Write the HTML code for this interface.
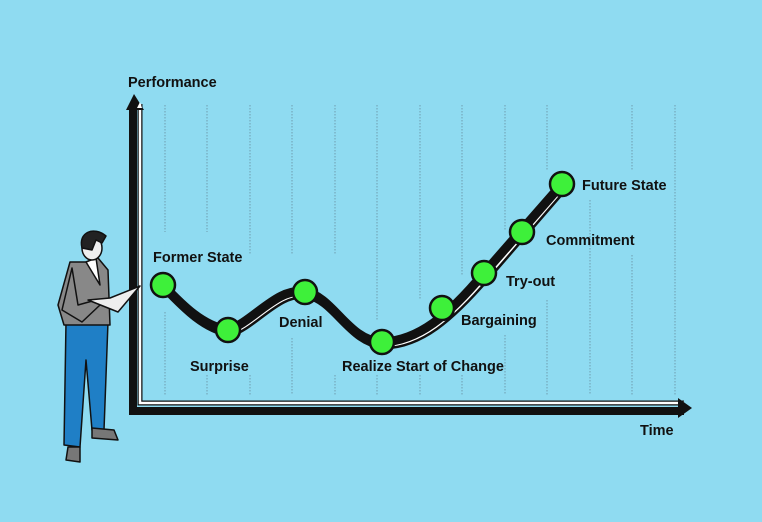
<!DOCTYPE html>
<html><head><style>
body{margin:0;width:762px;height:522px;background:#8fdbf1;overflow:hidden;font-family:"Liberation Sans",sans-serif}
svg{display:block}
text{font-family:"Liberation Sans",sans-serif;font-weight:bold;font-size:14.5px;fill:#111}
</style></head><body>
<svg width="762" height="522" viewBox="0 0 762 522">
<rect width="762" height="522" fill="#8fdbf1"/>
<g stroke="#6f9eb0" stroke-width="1" stroke-dasharray="1.5,1.5">
<line x1="165" y1="105" x2="165" y2="232"/><line x1="165" y1="312" x2="165" y2="395"/>
<line x1="207" y1="105" x2="207" y2="232"/><line x1="207" y1="375" x2="207" y2="395"/>
<line x1="250" y1="105" x2="250" y2="255"/><line x1="250" y1="375" x2="250" y2="395"/>
<line x1="292" y1="105" x2="292" y2="255"/><line x1="292" y1="338" x2="292" y2="395"/>
<line x1="335" y1="105" x2="335" y2="255"/><line x1="335" y1="375" x2="335" y2="395"/>
<line x1="377" y1="105" x2="377" y2="320"/><line x1="377" y1="375" x2="377" y2="395"/>
<line x1="420" y1="105" x2="420" y2="300"/><line x1="420" y1="375" x2="420" y2="395"/>
<line x1="462" y1="105" x2="462" y2="275"/><line x1="462" y1="375" x2="462" y2="395"/>
<line x1="505" y1="105" x2="505" y2="230"/><line x1="505" y1="335" x2="505" y2="395"/>
<line x1="547" y1="105" x2="547" y2="170"/><line x1="547" y1="300" x2="547" y2="395"/>
<line x1="590" y1="200" x2="590" y2="395"/>
<line x1="632" y1="105" x2="632" y2="170"/><line x1="632" y1="255" x2="632" y2="395"/>
<line x1="675" y1="105" x2="675" y2="395"/>
</g>
<!-- axes -->
<path d="M133 104 L133 411 L684 411" fill="none" stroke="#111" stroke-width="8"/>
<path d="M140 104 L140 403 L684 403" fill="none" stroke="#111" stroke-width="5"/>
<path d="M140 104 L140 403 L684 403" fill="none" stroke="#fff" stroke-width="2.5"/>
<polygon points="126,110 134,94 144,110" fill="#111"/>
<polygon points="137,108 140,102 142,108" fill="#fff"/>
<polygon points="678,398 692,408 678,418" fill="#111"/>
<!-- curve -->
<path d="M165 288 C185 309 205 329 230 333 C255 325 280 289 307 295 C335 299 350 344 385 345 C420 344 450 319 487 276 L564 187" fill="none" stroke="#111" stroke-width="9"/>
<path d="M165 288 C185 309 205 329 230 333 C255 325 280 289 307 295 C335 299 350 344 385 345 C420 344 450 319 487 276 L564 187" fill="none" stroke="#fff" stroke-width="4"/>
<path d="M163 285 C183 306 203 326 228 330 C253 322 278 286 305 292 C333 296 348 341 382 342 C418 341 448 316 484 273 L562 184" fill="none" stroke="#111" stroke-width="9"/>
<g fill="#3ef03a" stroke="#111" stroke-width="2.5">
<circle cx="163" cy="285" r="12"/><circle cx="228" cy="330" r="12"/><circle cx="305" cy="292" r="12"/>
<circle cx="382" cy="342" r="12"/><circle cx="442" cy="308" r="12"/><circle cx="484" cy="273" r="12"/>
<circle cx="522" cy="232" r="12"/><circle cx="562" cy="184" r="12"/>
</g>
<text x="128" y="87">Performance</text>
<text x="640" y="435">Time</text>
<text x="153" y="262">Former State</text>
<text x="190" y="371">Surprise</text>
<text x="279" y="327">Denial</text>
<text x="342" y="371">Realize Start of Change</text>
<text x="461" y="325">Bargaining</text>
<text x="506" y="286">Try-out</text>
<text x="546" y="245">Commitment</text>
<text x="582" y="190">Future State</text>
<!-- person -->
<g stroke="#111" stroke-width="1.5" stroke-linejoin="round">
<path d="M66 322 L64 445 L80 447 L86 360 L92 430 L104 430 L108 322 Z" fill="#1f7fc6"/>
<path d="M68 447 L66 460 L80 462 L80 447 Z" fill="#777"/>
<path d="M92 428 L92 438 L118 440 L114 430 Z" fill="#777"/>
<path d="M70 262 L58 305 L64 325 L110 325 L108 270 L98 258 L86 262 Z" fill="#888"/>
<path d="M86 262 L96 258 L100 285 Z" fill="#fff"/>
<path d="M72 268 L62 310 L82 322 L100 305 L96 300 L78 305 Z" fill="#888"/>
<path d="M88 300 L118 312 L140 286 L110 298 Z" fill="#eee"/>
<ellipse cx="92" cy="248" rx="10" ry="12" fill="#eee"/>
<path d="M82 248 C78 232 94 226 106 236 L102 243 L96 240 L92 250 Z" fill="#222"/>
</g>
</svg>
</body></html>
